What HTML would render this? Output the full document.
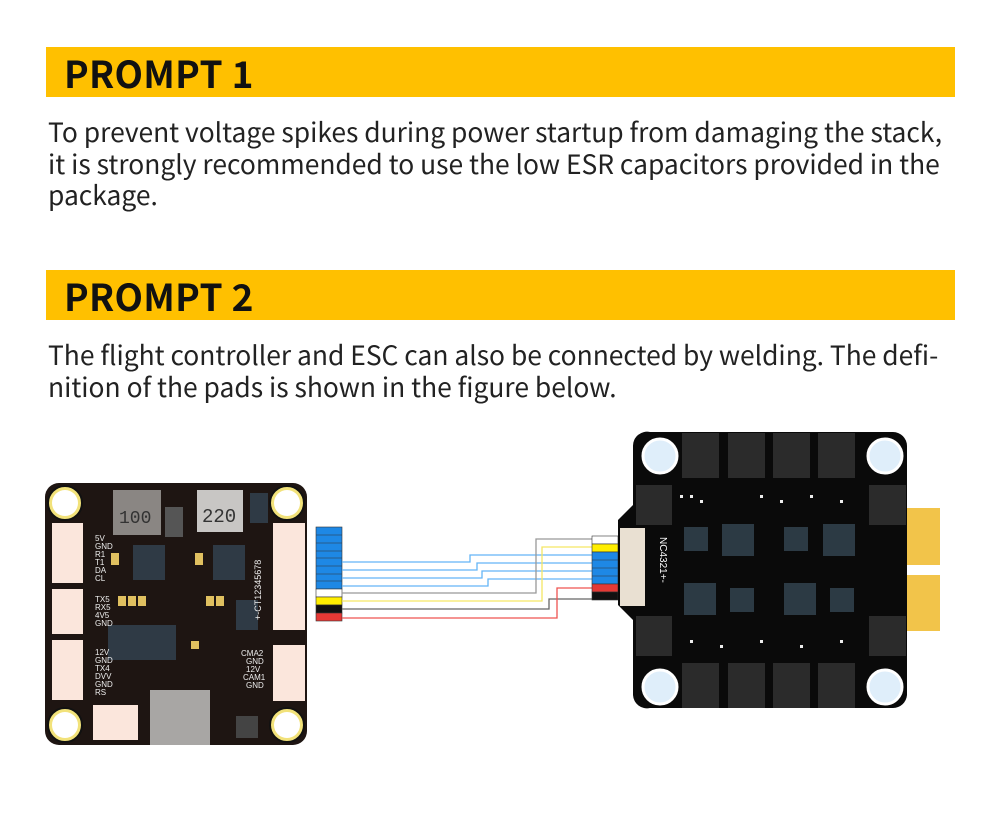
<!DOCTYPE html>
<html><head><meta charset="utf-8"><style>
body{margin:0;background:#fff;width:1000px;height:817px;overflow:hidden;position:relative;font-family:"Noto Sans CJK SC","Liberation Sans",sans-serif}
.bar{position:absolute;left:46px;width:909px;height:50px;background:#FFC000}
.bar span{position:absolute;left:18px;top:0px;line-height:50px;font-size:37px;font-weight:bold;color:#111;letter-spacing:0.3px}
.p{position:absolute;left:48px;font-size:26.4px;line-height:31.5px;color:#222;white-space:nowrap}
svg{position:absolute;left:0;top:0}
</style></head><body>
<div class="bar" style="top:47px"><span>PROMPT 1</span></div>
<div class="p" style="top:115px">To prevent voltage spikes during power startup from damaging the stack,<br>it is strongly recommended to use the low ESR capacitors provided in the<br>package.</div>
<div class="bar" style="top:270px"><span>PROMPT 2</span></div>
<div class="p" style="top:338px">The flight controller and ESC can also be connected by welding. The defi-<br>nition of the pads is shown in the figure below.</div>
<svg width="1000" height="817" viewBox="0 0 1000 817" style="font-family:'Liberation Sans',sans-serif">
<!-- left board -->
<rect x="45" y="483" width="262" height="262" rx="14" fill="#1e1512"/>
<g fill="#f2e27a" stroke="#111" stroke-width="2">
<circle cx="65" cy="503" r="17"/><circle cx="287" cy="503" r="17"/><circle cx="65" cy="725" r="17"/><circle cx="287" cy="725" r="17"/></g>
<g fill="#fff" ><circle cx="65" cy="503" r="13"/><circle cx="287" cy="503" r="13"/><circle cx="65" cy="725" r="13"/><circle cx="287" cy="725" r="13"/></g>
<g fill="#fbe6dc">
<rect x="52" y="523" width="31" height="60"/><rect x="52" y="589" width="31" height="45"/><rect x="52" y="640" width="31" height="60"/>
<rect x="273" y="523" width="32" height="107"/><rect x="273" y="645" width="32" height="56"/>
<rect x="93" y="705" width="45" height="35"/></g>
<rect x="113" y="490" width="48" height="45" fill="#8a8683"/><text x="119" y="523" font-size="18" fill="#333" font-family="Liberation Mono">100</text>
<rect x="197" y="490" width="46" height="42" fill="#c8c6c4"/><text x="202" y="522" font-size="19" fill="#333" font-family="Liberation Mono">220</text>
<rect x="165" y="507" width="18" height="30" fill="#555"/>
<rect x="250" y="493" width="18" height="30" fill="#2f3a45"/>
<rect x="133" y="545" width="32" height="35" fill="#2f3a45"/><rect x="213" y="545" width="32" height="35" fill="#2f3a45"/>
<rect x="108" y="625" width="68" height="35" fill="#2f3a45"/>
<rect x="150" y="690" width="60" height="55" fill="#a8a6a4"/>
<rect x="236" y="716" width="22" height="22" fill="#444"/>
<rect x="236" y="600" width="22" height="30" fill="#2f3a45"/>
<g fill="#e0c060"><rect x="111" y="553" width="8" height="12"/><rect x="195" y="553" width="8" height="12"/><rect x="118" y="596" width="8" height="10"/><rect x="128" y="596" width="8" height="10"/><rect x="138" y="596" width="8" height="10"/><rect x="206" y="596" width="8" height="10"/><rect x="216" y="596" width="8" height="10"/><rect x="191" y="641" width="8" height="8"/></g>
<g font-size="8" fill="#eee"><text x="95" y="541">5V</text><text x="95" y="549">GND</text><text x="95" y="557">R1</text><text x="95" y="565">T1</text><text x="95" y="573">DA</text><text x="95" y="581">CL</text>
<text x="95" y="602">TX5</text><text x="95" y="610">RX5</text><text x="95" y="618">4V5</text><text x="95" y="626">GND</text>
<text x="95" y="655">12V</text><text x="95" y="663">GND</text><text x="95" y="671">TX4</text><text x="95" y="679">DVV</text><text x="95" y="687">GND</text><text x="95" y="695">RS</text>
<text x="241" y="656">CMA2</text><text x="246" y="664">GND</text><text x="246" y="672">12V</text><text x="243" y="680">CAM1</text><text x="246" y="688">GND</text></g>
<text transform="translate(261,620) rotate(-90)" font-size="9" fill="#eee">+-CT12345678</text>
<!-- left connector -->
<g stroke="#333" stroke-width="0.6">
<rect x="316" y="527" width="26" height="62" fill="#1e88e5"/>
<rect x="316" y="589" width="26" height="8" fill="#fff"/>
<rect x="316" y="597" width="26" height="8" fill="#ffee00"/>
<rect x="316" y="605" width="26" height="8" fill="#111"/>
<rect x="316" y="613" width="26" height="8" fill="#e53935"/>
<line x1="316" y1="535" x2="342" y2="535"/><line x1="316" y1="543" x2="342" y2="543"/><line x1="316" y1="551" x2="342" y2="551"/><line x1="316" y1="558" x2="342" y2="558"/><line x1="316" y1="566" x2="342" y2="566"/><line x1="316" y1="574" x2="342" y2="574"/><line x1="316" y1="581" x2="342" y2="581"/></g>
<!-- wires -->
<g fill="none" stroke-width="1.3">
<polyline points="342,562 470,562 470,555 592,555" stroke="#64b5f6"/>
<polyline points="342,570 477,570 477,563 592,563" stroke="#64b5f6"/>
<polyline points="342,578 482,578 482,571 592,571" stroke="#64b5f6"/>
<polyline points="342,586 488,586 488,579 592,579" stroke="#64b5f6"/>
<polyline points="342,593 536,593 536,539 592,539" stroke="#999"/>
<polyline points="342,601 542,601 542,547 592,547" stroke="#f5e663"/>
<polyline points="342,609 549,609 549,599 592,599" stroke="#666"/>
<polyline points="342,618 557,618 557,588 592,588" stroke="#ef5350"/>
</g>
<!-- right connector small -->
<g stroke="#333" stroke-width="0.6">
<rect x="592" y="536" width="26" height="8" fill="#fff"/>
<rect x="592" y="544" width="26" height="8" fill="#ffee00"/>
<rect x="592" y="552" width="26" height="32" fill="#1e88e5"/>
<rect x="592" y="584" width="26" height="8" fill="#e53935"/>
<rect x="592" y="592" width="26" height="8" fill="#111"/>
<line x1="592" y1="560" x2="618" y2="560"/><line x1="592" y1="568" x2="618" y2="568"/><line x1="592" y1="576" x2="618" y2="576"/></g>
<!-- right board -->
<path d="M650,432 H893 A14,14 0 0 1 907,446 V695 A14,14 0 0 1 893,708 H650 A14,14 0 0 1 633,695 V620 L618,605 V520 L633,505 V446 A14,14 0 0 1 650,432Z" fill="#0a0a0a"/>
<rect x="620" y="528" width="25" height="78" fill="#e9e0d2"/>
<g fill="#dfeefa" stroke="#fff" stroke-width="3">
<circle cx="660" cy="456" r="17"/><circle cx="885" cy="456" r="17"/><circle cx="660" cy="687" r="17"/><circle cx="885" cy="687" r="17"/></g>
<g fill="#2b2b2b">
<rect x="682" y="433" width="37" height="45"/><rect x="728" y="433" width="37" height="45"/><rect x="773" y="433" width="37" height="45"/><rect x="818" y="433" width="37" height="45"/>
<rect x="682" y="663" width="37" height="45"/><rect x="728" y="663" width="37" height="45"/><rect x="773" y="663" width="37" height="45"/><rect x="818" y="663" width="37" height="45"/>
<rect x="636" y="485" width="36" height="40"/><rect x="636" y="616" width="36" height="40"/>
<rect x="869" y="485" width="37" height="40"/><rect x="869" y="616" width="37" height="40"/></g>
<g fill="#2c3a44">
<rect x="684" y="527" width="24" height="24"/><rect x="722" y="524" width="32" height="32"/><rect x="784" y="527" width="24" height="24"/><rect x="823" y="524" width="32" height="32"/>
<rect x="684" y="583" width="32" height="32"/><rect x="730" y="588" width="24" height="24"/><rect x="784" y="583" width="32" height="32"/><rect x="830" y="588" width="24" height="24"/></g>
<rect x="907" y="508" width="33" height="57" fill="#f2c44a"/><rect x="907" y="575" width="33" height="56" fill="#f2c44a"/>
<text transform="translate(660,537) rotate(90)" font-size="10" fill="#fff">NC4321+-</text>
<g fill="#eee"><rect x="680" y="495" width="3" height="3"/><rect x="690" y="495" width="3" height="3"/><rect x="700" y="500" width="3" height="3"/><rect x="760" y="495" width="3" height="3"/><rect x="780" y="500" width="3" height="3"/><rect x="810" y="495" width="3" height="3"/><rect x="840" y="500" width="3" height="3"/><rect x="690" y="640" width="3" height="3"/><rect x="720" y="645" width="3" height="3"/><rect x="760" y="640" width="3" height="3"/><rect x="800" y="645" width="3" height="3"/><rect x="840" y="640" width="3" height="3"/></g>
</svg>
</body></html>
